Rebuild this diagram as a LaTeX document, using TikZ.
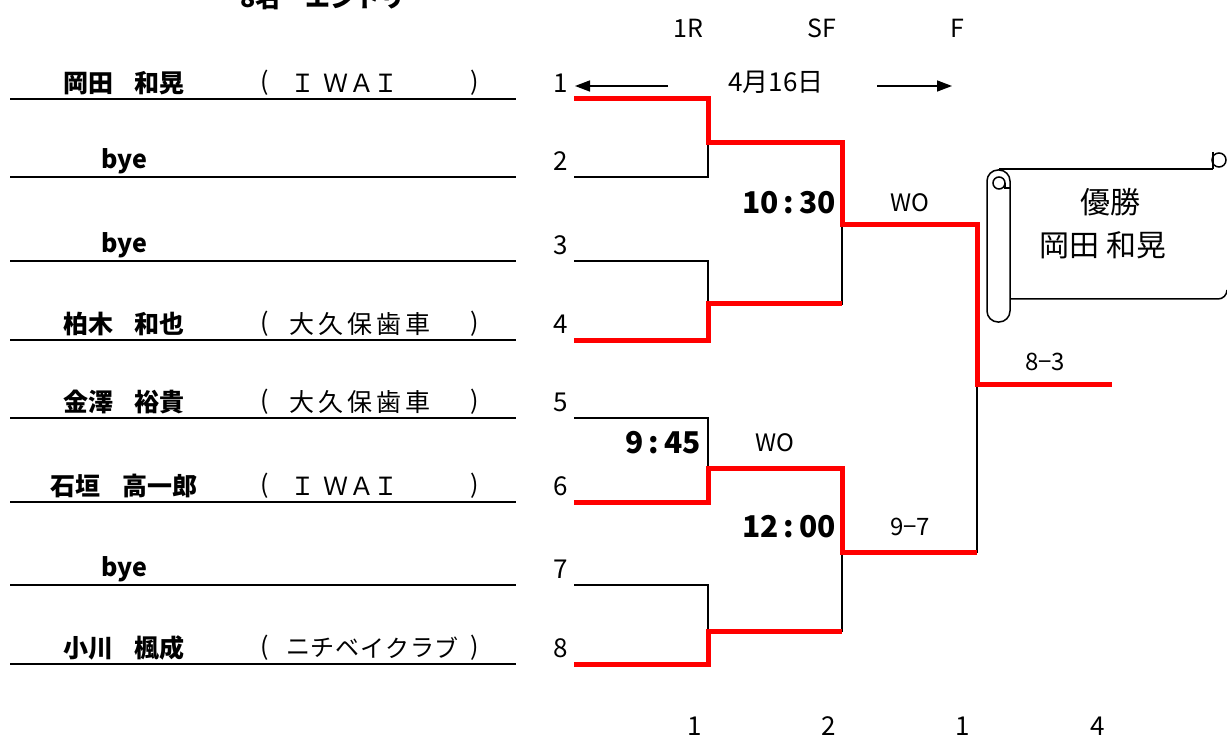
\documentclass[tikz,border=0pt]{standalone}
\usepackage{fontspec}
\setmainfont{Noto Sans CJK JP}
\usetikzlibrary{arrows.meta}
\definecolor{winred}{RGB}{255,0,0}
\newcommand{\fsz}[1]{\fontsize{#1}{#1}\selectfont}
\newcommand{\gp}{\hspace{0.85em}}
\begin{document}
\begin{tikzpicture}[x=1pt,y=-1pt,
  nameline/.style={line width=2.7pt},
  bline/.style={line width=2.7pt, line join=miter},
  rline/.style={line width=5pt, draw=winred, line join=miter},
  nametxt/.style={inner sep=0pt, font=\fsz{25}\bfseries},
  teamtxt/.style={inner sep=0pt, font=\fsz{25}},
  numtxt/.style={inner sep=0pt, font=\fsz{26}},
  hdrtxt/.style={inner sep=0pt, font=\fsz{25}},
  timetxt/.style={inner sep=0pt, anchor=east, font=\fsz{30}\bfseries},
  scoretxt/.style={inner sep=0pt, font=\fsz{24}},
  scrolltxt/.style={inner sep=0pt, font=\fsz{30}},
  arr/.style={line width=1.5pt, -{Triangle[length=15pt,width=11pt]}}
]
\path[use as bounding box, fill=white] (0,0) rectangle (1227,738);

% title (clipped at top, as in the original)
\node[inner sep=0pt, anchor=base west, font=\fsz{25}\bfseries] (title) at (240,8) {8名　エントリー};

% headers
\node[hdrtxt] (h1R) at (688,28) {1R};
\node[hdrtxt] (hSF) at (822,28) {SF};
\node[hdrtxt] (hF) at (957,28) {F};
\node[hdrtxt, font=\fsz{26}] (date) at (776,82) {4月16日};
\coordinate (al1) at (668,86); \coordinate (al2) at (575,86);
\coordinate (ar1) at (877,86); \coordinate (ar2) at (952,86);
\draw[arr] (al1) -- (al2);
\draw[arr] (ar1) -- (ar2);

% player lines, numbers
\foreach \i/\y in {1/99,2/177,3/261,4/340,5/418,6/502,7/585,8/664}{
  \coordinate (p\i L) at (10,\y);
  \coordinate (p\i R) at (516,\y);
  \coordinate (s\i) at (574,\y);
  \draw[nameline] (p\i L) -- (p\i R);
  \node[numtxt] (n\i) at (561,\y-16) {\i};
}
% names
\node[nametxt] (name1) at (124,83) {岡田\gp 和晃};
\node[nametxt] (name2) at (124,161) {bye};
\node[nametxt] (name3) at (124,245) {bye};
\node[nametxt] (name4) at (124,324) {柏木\gp 和也};
\node[nametxt] (name5) at (124,402) {金澤\gp 裕貴};
\node[nametxt] (name6) at (124,486) {石垣\gp 高一郎};
\node[nametxt] (name7) at (124,569) {bye};
\node[nametxt] (name8) at (124,648) {小川\gp 楓成};

% teams
\foreach \r/\y in {1/83,4/324,5/402,6/486,8/648}{
  \node[teamtxt] (tl\r) at (265,\y) {(};
  \node[teamtxt] (tr\r) at (475,\y) {)};
}
\foreach \r/\y in {1/83,6/486}{
  \foreach \c/\xx in {Ｉ/303,Ｗ/336,Ａ/362,Ｉ/386}{
    \node[teamtxt] (t\r-\xx) at (\xx,\y) {\c};
  }
}
\foreach \r/\y in {4/324,5/402}{
  \foreach \c [count=\k from 0] in {大,久,保,歯,車}{
    \node[teamtxt] (t\r-\k) at (301.5+29*\k,\y) {\c};
  }
}
\foreach \c [count=\k from 0] in {ニ,チ,ベ,イ,ク,ラ,ブ}{
  \node[teamtxt, font=\fsz{24}] (t8-\k) at (298+24.8*\k,648) {\c};
}

% bracket coordinates
\coordinate (m12) at (708,143);
\coordinate (m34) at (708,304);
\coordinate (m56) at (708,468);
\coordinate (m78) at (708,631);
\coordinate (sf1) at (842,225);
\coordinate (sf2) at (842,552);
\coordinate (fin) at (977,384);
\coordinate (champ) at (1112,384);

% black bracket
\draw[bline] (s1) -| (m12) |- (s2);
\draw[bline] (s3) -| (m34) |- (s4);
\draw[bline] (s5) -| (m56) |- (s6);
\draw[bline] (s7) -| (m78) |- (s8);
\draw[bline] (m12) -| (sf1) |- (m34);
\draw[bline] (m56) -| (sf2) |- (m78);
\draw[bline] (sf1) -| (fin) |- (sf2);

% winners in red
\draw[rline] (s1) -| (m12) -| (sf1) -| (fin) -- (champ);
\draw[rline] (s4) -| (m34) -- (m34 -| sf1);
\draw[rline] (s6) -| (m56) -| (sf2) -- (sf2 -| fin);
\draw[rline] (s8) -| (m78) -- (m78 -| sf2);

% times and scores
\node[timetxt] (t1030) at (836,203) {10\,:\,30};
\node[timetxt] (t945) at (701,443) {9\,:\,45};
\node[timetxt] (t1200) at (836,527) {12\,:\,00};
\node[scoretxt] (wo1) at (910,203) {WO};
\node[scoretxt] (wo2) at (775,443) {WO};
\node[scoretxt] (sc97) at (910,527) {9−7};
\node[scoretxt] (sc83) at (1045,362) {8−3};

% bottom counts
\node[numtxt] (c1) at (695,726) {1};
\node[numtxt] (c2) at (829,726) {2};
\node[numtxt] (c3) at (963,726) {1};
\node[numtxt] (c4) at (1098,726) {4};

% scroll
\draw[line width=1.5pt] (999,169) -- (1213,169);
\draw[line width=1.5pt] (1010,299) -- (1218,299) arc[start angle=90, end angle=0, radius=9];
\draw[line width=1.5pt] (1213,152) -- (1213,169);
\draw[line width=1.5pt] (1219,160) circle[radius=7];
\draw[line width=1.5pt, fill=white, rounded corners=11pt] (987,170) rectangle (1010,322);
\draw[line width=1.5pt] (999,183) circle[radius=6];
\draw[line width=1.5pt] (1005,183) -- (1005,188) -- (1010,188);
\node[scrolltxt] (champ1) at (1110,202) {優勝};
\node[scrolltxt] (champ2) at (1103,245) {岡田 和晃};
\end{tikzpicture}
\end{document}
